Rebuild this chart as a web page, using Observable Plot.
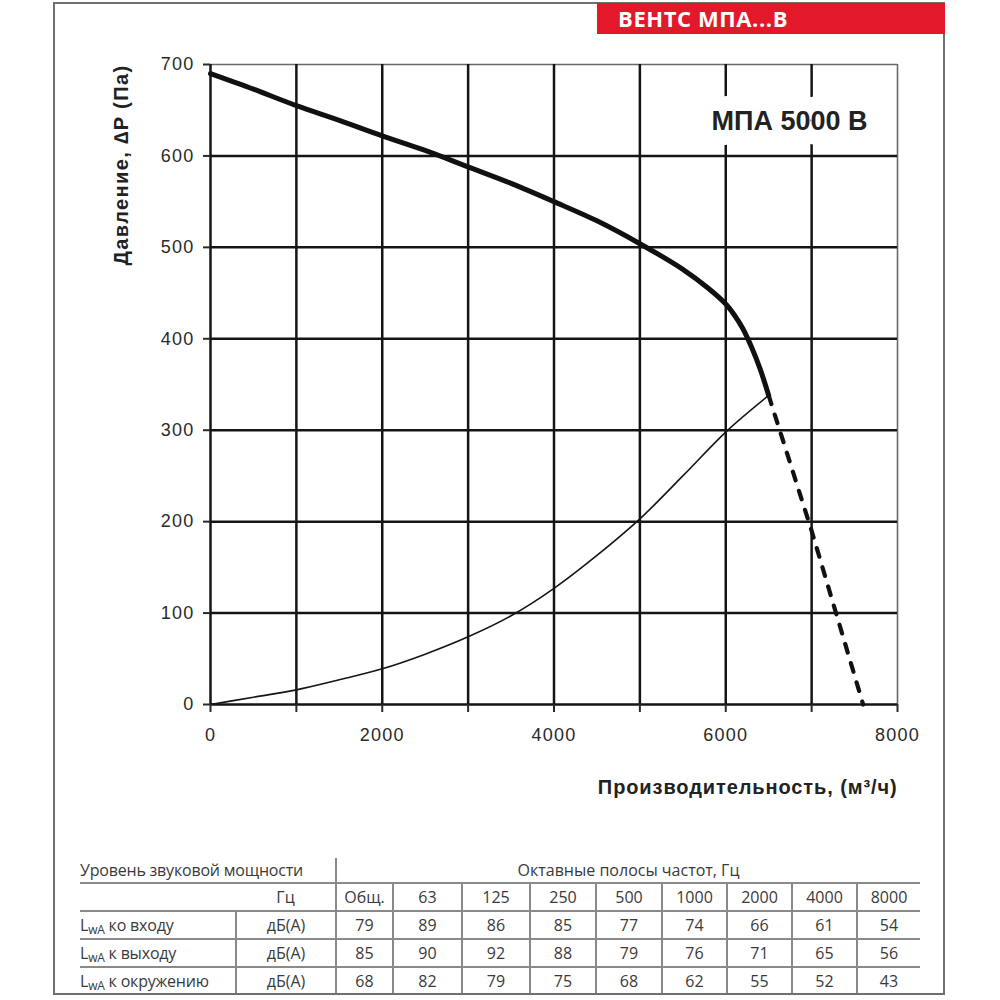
<!DOCTYPE html>
<html>
<head>
<meta charset="utf-8">
<script src="https://cdn.jsdelivr.net/npm/d3@7"></script>
<script src="https://cdn.jsdelivr.net/npm/@observablehq/plot@0.6"></script>
<style>
html, body { margin: 0; padding: 0; background: #fff; }
#page { position: relative; width: 1000px; height: 1000px; overflow: hidden; background: #fff; }
#chart { position: absolute; left: 0; top: 0; }
#frame { position: absolute; left: 53px; top: 2px; width: 888px; height: 989px; border: 2px solid #707070; pointer-events: none; }
#banner { position: absolute; left: 597px; top: 3px; width: 348px; height: 31px; background: #e3192b; color: #fff;
  font: 700 22px "Open Sans", sans-serif; line-height: 31px; padding-left: 21px; box-sizing: border-box; letter-spacing: 0.6px; }
#sound { position: absolute; left: 80px; top: 858px; width: 840px; border-collapse: collapse; table-layout: fixed;
  font: 16px "Open Sans", sans-serif; color: #3a3a3a; }
#sound td { padding: 0; height: 26px; text-align: center; vertical-align: middle; white-space: nowrap; }
#sound tr.h1 td { height: 24px; }
#sound tr.line td { border-bottom: 2px solid #8a8a8a; }
#sound td.vl { border-left: 2px solid #8a8a8a; }
#sound td.lab { text-align: left; letter-spacing: -0.2px; }
#sound sub { font-size: 12px; vertical-align: -3px; line-height: 0; }
#chart svg g[aria-label="x-axis tick label"] text, #chart svg g[aria-label="y-axis tick label"] text { letter-spacing: 1.2px; }
</style>
</head>
<body>
<div id="page">
  <div id="chart"></div>
  <table id="sound"></table>
  <div id="frame"></div>
  <div id="banner"></div>
</div>
<script>
// ---- chart data ----
const fanFlow     = [0, 500, 1000, 1500, 2000, 2500, 3000, 3500, 4000, 4500, 5000, 5500, 5800, 6000, 6100, 6200, 6300, 6400, 6500];
const fanPressure = [690, 673, 655, 639, 622, 606, 588, 570, 550, 529, 504, 476, 455, 438, 426, 411, 391, 367, 338];
const dashFlow     = [6500, 7000, 7600];
const dashPressure = [338, 190, 0];
const sysFlow     = [0, 500, 1000, 1500, 2000, 2500, 3000, 3500, 4000, 4500, 5000, 5500, 6000, 6500];
const sysPressure = [0, 8, 16, 27, 39, 55, 74, 97, 127, 163, 203, 250, 298, 338];

const xTicks = [0, 1000, 2000, 3000, 4000, 5000, 6000, 7000, 8000];
const xTickLabels = ["0", "", "2000", "", "4000", "", "6000", "", "8000"];
const yTicks = [0, 100, 200, 300, 400, 500, 600, 700];
const yTickLabels = ["0", "100", "200", "300", "400", "500", "600", "700"];
const xGrid = [0, 1000, 2000, 3000, 4000, 5000, 6000, 7000];
const yGrid = [0, 100, 200, 300, 400, 500, 600];

const modelTitle = "МПА 5000 B";
const bannerText = "ВЕНТС МПА...В";
const xLabel = "Производительность, (м³/ч)";
const yLabel = "Давление, ∆P (Па)";

// ---- table data ----
const tableHeader = "Уровень звуковой мощности";
const bandHeader = "Октавные полосы частот, Гц";
const hzLabel = "Гц";
const bands = ["Общ.", "63", "125", "250", "500", "1000", "2000", "4000", "8000"];
const rowNames = ["ко входу", "к выходу", "к окружению"];
const unit = "дБ(А)";
const inletValues = [79, 89, 86, 85, 77, 74, 66, 61, 54];
const outletValues = [85, 90, 92, 88, 79, 76, 71, 65, 56];
const surroundValues = [68, 82, 79, 75, 68, 62, 55, 52, 43];

const fan = fanFlow.map((q, i) => ({q, p: fanPressure[i]}));
const dash = dashFlow.map((q, i) => ({q, p: dashPressure[i]}));
const sys = sysFlow.map((q, i) => ({q, p: sysPressure[i]}));
const xFmt = new Map(xTicks.map((t, i) => [t, xTickLabels[i]]));
const yFmt = new Map(yTicks.map((t, i) => [t, yTickLabels[i]]));

const chart = Plot.plot({
  width: 1000,
  height: 830,
  marginLeft: 210,
  marginRight: 103,
  marginTop: 64,
  marginBottom: 126,
  style: {background: "transparent", fontFamily: "'Liberation Sans', Arial, sans-serif", fontSize: "18px", color: "#2a2a2a", overflow: "visible"},
  x: {domain: [0, 8000]},
  y: {domain: [0, 700]},
  marks: [
    Plot.ruleX([8000], {stroke: "#6a6a6a", strokeWidth: 1.6}),
    Plot.ruleY([700], {stroke: "#6a6a6a", strokeWidth: 1.6}),
    Plot.gridX(xGrid, {stroke: "#151515", strokeWidth: 2.5, strokeOpacity: 1}),
    Plot.gridY(yGrid, {stroke: "#151515", strokeWidth: 2.5, strokeOpacity: 1}),
    Plot.text([modelTitle], {frameAnchor: "top-right", textAnchor: "end", dx: -30, dy: 46,
      fontSize: 27, fontWeight: "bold", fill: "#222", stroke: "white", strokeWidth: 30, paintOrder: "stroke",
      fontFamily: "'Liberation Sans', Arial, sans-serif"}),
    Plot.line(sys, {x: "q", y: "p", stroke: "#151515", strokeWidth: 1.6, curve: "monotone-x"}),
    Plot.line(fan, {x: "q", y: "p", stroke: "#111", strokeWidth: 5, curve: "catmull-rom"}),
    Plot.line(dash, {x: "q", y: "p", stroke: "#111", strokeWidth: 4.2, strokeDasharray: "9,11"}),
    Plot.axisX({ticks: xTicks, tickSize: 8, tickPadding: 16, strokeWidth: 2, label: null, tickFormat: d => xFmt.get(d)}),
    Plot.axisY({ticks: yTicks, tickSize: 7, tickPadding: 9, strokeWidth: 2, label: null, tickFormat: d => yFmt.get(d)}),
    Plot.text([xLabel], {frameAnchor: "bottom-right", textAnchor: "end", dy: 89, fontSize: 20, fontWeight: "bold", fill: "#222"}),
    Plot.text([yLabel], {frameAnchor: "top-left", textAnchor: "end", rotate: -90, dx: -97, fontSize: 20, fontWeight: "bold", fill: "#222"})
  ]
});
document.getElementById("chart").appendChild(chart);
document.getElementById("banner").textContent = bannerText;
// slightly widen the axis titles like the original
chart.querySelectorAll("g[aria-label='text'] text").forEach(t => {
  if (t.textContent === xLabel) t.style.letterSpacing = "0.9px";
  if (t.textContent === yLabel) t.style.letterSpacing = "1.4px";
});

// ---- build table ----
const colWidths = [156, 100, 57, 69, 68, 66, 66, 65, 65, 65, 63];
const tbl = document.getElementById("sound");
const cg = document.createElement("colgroup");
colWidths.forEach(w => { const c = document.createElement("col"); c.style.width = w + "px"; cg.appendChild(c); });
tbl.appendChild(cg);
function td(tr, html, cls, span) {
  const c = document.createElement("td");
  c.innerHTML = html;
  if (cls) c.className = cls;
  if (span) c.colSpan = span;
  tr.appendChild(c);
  return c;
}
let tr = document.createElement("tr"); tr.className = "h1 line";
td(tr, tableHeader, "lab", 2);
td(tr, bandHeader, "vl", 9);
tbl.appendChild(tr);
tr = document.createElement("tr"); tr.className = "line";
td(tr, "", "");
td(tr, hzLabel, "");
bands.forEach(b => td(tr, b, "vl"));
tbl.appendChild(tr);
[inletValues, outletValues, surroundValues].forEach((vals, r) => {
  const row = document.createElement("tr");
  if (r < 2) row.className = "line";
  const l = td(row, "L<sub>wA</sub> " + rowNames[r], "lab");
  l.style.borderRight = "2px solid #8a8a8a";
  td(row, unit, "");
  vals.forEach(v => td(row, String(v), "vl"));
  tbl.appendChild(row);
});
</script>
</body>
</html>
